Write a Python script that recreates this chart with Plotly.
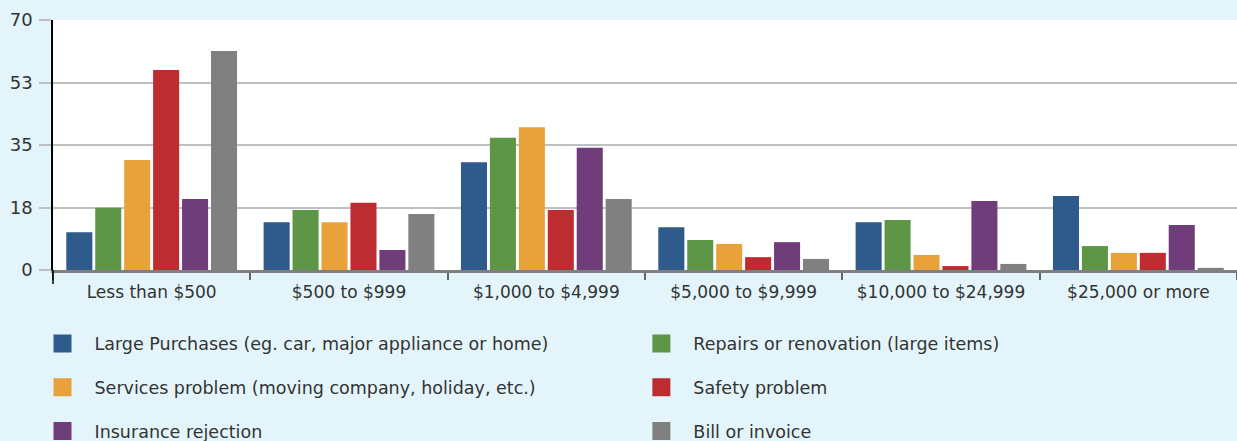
import plotly.graph_objects as go

categories = ["Less than $500", "$500 to $999", "$1,000 to $4,999",
              "$5,000 to $9,999", "$10,000 to $24,999", "$25,000 or more"]

large_purchases = [10.6, 13.4, 30.2, 12.0, 13.4, 20.7]
repairs = [17.4, 16.8, 37.0, 8.4, 14.0, 6.7]
services = [30.8, 13.4, 40.0, 7.3, 4.2, 4.8]
safety = [56.0, 18.8, 16.8, 3.6, 1.1, 4.8]
insurance = [19.9, 5.6, 34.2, 7.8, 19.3, 12.6]
bill = [61.3, 15.7, 19.9, 3.1, 1.7, 0.6]

series_names = ["Large Purchases (eg. car, major appliance or home)",
                "Repairs or renovation (large items)",
                "Services problem (moving company, holiday, etc.)",
                "Safety problem",
                "Insurance rejection",
                "Bill or invoice"]
series_values = [large_purchases, repairs, services, safety, insurance, bill]
series_colors = ["#2E5A8C", "#5C9646", "#E8A23C", "#BC2C30", "#6E3D7A", "#7F807F"]
legend_ids = ["legend", "legend2", "legend", "legend2", "legend", "legend2"]

y_tickvals = [0, 17.5, 35, 52.5, 70]
y_ticktext = ["0", "18", "35", "53", "70"]

FONT = "DejaVu Sans, sans-serif"
TEXT = "#333333"

fig = go.Figure()
for i, (name, vals, col, lg) in enumerate(zip(series_names, series_values, series_colors, legend_ids)):
    fig.add_trace(go.Bar(
        x=categories, y=vals, name=name, marker=dict(color=col, line=dict(width=0)),
        showlegend=False, legendgroup="g%d" % i,
    ))
    # legend entry (larger square swatch) tied to the bar trace via legendgroup
    fig.add_trace(go.Scatter(
        x=[None], y=[None], mode="markers", name=name, legend=lg, legendgroup="g%d" % i,
        marker=dict(symbol="square", size=16, color=col, line=dict(color=col, width=2)),
        hoverinfo="skip",
    ))

legend_common = dict(
    xanchor="left", yanchor="top", orientation="v",
    tracegroupgap=18, bgcolor="rgba(0,0,0,0)", itemwidth=54,
    font=dict(family=FONT, size=17.5, color=TEXT),
)

fig.update_layout(
    width=1237, height=441,
    margin=dict(l=53, r=0, t=20, b=171, pad=0, autoexpand=False),
    paper_bgcolor="#E3F5FA",
    plot_bgcolor="#FFFFFF",
    barmode="group",
    bargap=0.12,
    bargroupgap=0.1,
    font=dict(family=FONT, size=17, color=TEXT),
    legend=dict(x=-0.019, y=-0.222, **legend_common),
    legend2=dict(x=0.4868, y=-0.222, **legend_common),
    xaxis=dict(
        type="category", tickson="boundaries", ticks="outside", ticklen=7,
        tickwidth=2, tickcolor="#666666", showgrid=False, tickangle=0,
        showline=True, linecolor="#7F7F7F", linewidth=2.5, ticklabelstandoff=5,
        tickfont=dict(family=FONT, size=17, color=TEXT),
    ),
    yaxis=dict(
        range=[0, 70], tickvals=y_tickvals, ticktext=y_ticktext,
        ticks="outside", ticklen=12, tickwidth=2, tickcolor="#C0C0C0",
        showgrid=True, gridcolor="#C0C0C0", gridwidth=2, ticklabelstandoff=3,
        zeroline=False, showline=True, linecolor="#000000", linewidth=1.5,
        tickfont=dict(family=FONT, size=18, color=TEXT),
    ),
    shapes=[dict(type="line", xref="paper", yref="paper", x0=0, x1=0, y0=0, y1=-0.056,
                 line=dict(color="#000000", width=1.5))],
)

fig.write_html("out.html", config={"displayModeBar": False},
               post_script="document.body.style.margin='0px';document.body.style.padding='0px';")
